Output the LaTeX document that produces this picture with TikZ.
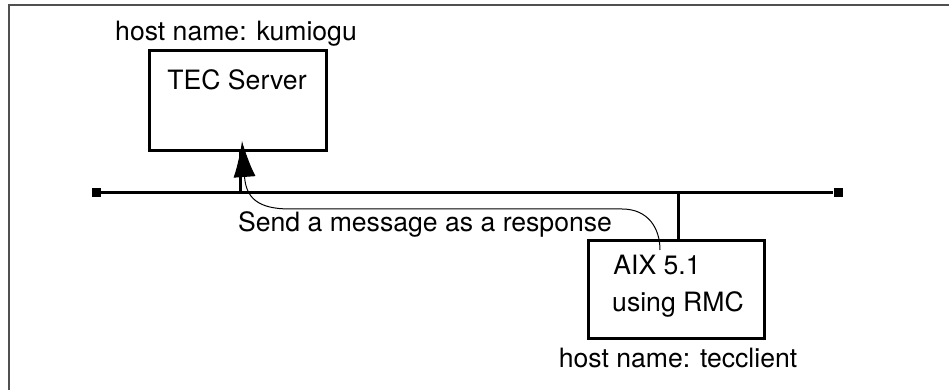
\documentclass[tikz,border=0pt]{standalone}
\usepackage{fontspec}
\setmainfont{TeX Gyre Heros}
\usepackage{tikz}
\usetikzlibrary{arrows.meta,positioning}
\definecolor{framegray}{RGB}{80,80,80}
\definecolor{wireblack}{RGB}{0,0,0}

\begin{document}
\begin{tikzpicture}[x=0.5pt,y=-0.5pt,
  font=\fontsize{13.3}{16}\selectfont,
  hostbox/.style={draw=wireblack, line width=1.5pt, inner sep=0pt},
  busend/.style={fill=wireblack, inner sep=0pt, minimum size=4.5pt},
  wire/.style={wireblack, line width=1.5pt},
  txt/.style={anchor=base, inner sep=0pt}]
\useasboundingbox (0,0) rectangle (949,390);
\draw[framegray, line width=1pt] (9,390)--(9,5)--(949,5);

% network line
\node[busend] (busL) at (96,193) {};
\node[busend] (busR) at (838,193) {};
\draw[wire] (busL) -- (busR);

% server side
\node[txt] (kumiogu) at (236,40.5) {host name: kumiogu};
\node[hostbox, minimum width=88.5pt, minimum height=50pt] (tec) at (237.5,101) {};
\node[txt] (tectext) at (237,90) {TEC Server};
\coordinate (tecdrop) at (240,193);
\draw[wire] (tecdrop) -- (tecdrop |- tec.south);

% client side
\node[hostbox, minimum width=88pt, minimum height=48.5pt] (aix) at (676,289.5) {};
\node[txt] (aixver) at (657,275) {AIX 5.1};
\node[txt] (aixrmc) at (678,312) {using RMC};
\node[txt] (tecclient) at (678,367) {host name: tecclient};
\coordinate (aixdrop) at (678,193);
\draw[wire] (aixdrop) -- (aixdrop |- aix.north);

% response message
\coordinate (msgstart) at (660,250);
\coordinate (msgtip) at (242,141);
\draw[wireblack, line width=0.5pt, -{Latex[length=18pt,width=11pt]}]
  (msgstart) .. controls (660,228) and (648,209) .. (622,209) -- (290,209)
  .. controls (258,209) and (246,198) .. (msgtip);
\node[txt] (msglabel) at (425,232) {Send a message as a response};
\end{tikzpicture}
\end{document}
